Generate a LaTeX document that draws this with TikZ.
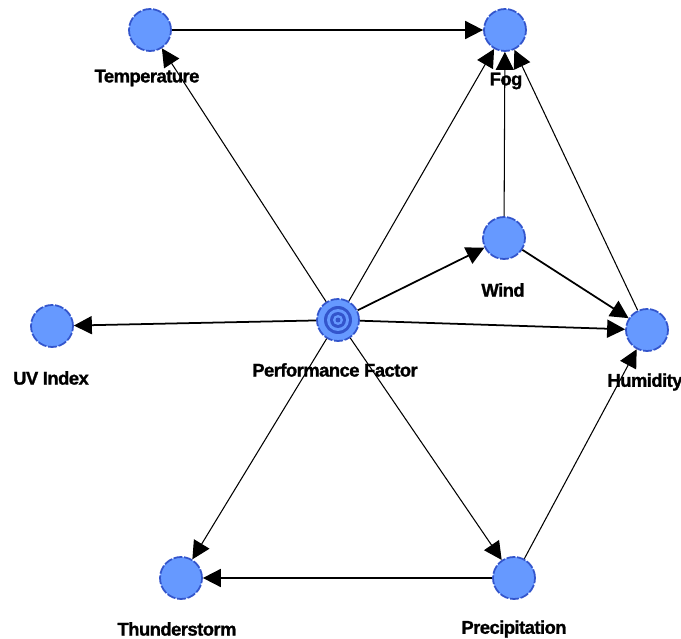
\documentclass[tikz,border=0pt]{standalone}
\usepackage{fontspec}
\setmainfont{Liberation Sans}
\newfontfamily\tagfont{Liberation Sans Bold}[FakeBold=1.2,LetterSpace=-3]
\usetikzlibrary{arrows.meta}
\definecolor{NodeClr}{RGB}{102,153,255}
\definecolor{RimClr}{RGB}{51,85,204}

\begin{document}
\begin{tikzpicture}[x=0.02cm,y=-0.02cm,
  ball/.style={circle,minimum size=0.84cm,inner sep=0pt,fill=NodeClr,
    draw=RimClr,line width=1pt,dash pattern=on 5pt off 1pt},
  tag/.style={font=\tagfont\fontsize{10.5}{12}\selectfont,inner sep=0pt},
  link/.style={-{Triangle[length=0.36cm,width=0.36cm]},line width=0.6pt},
  heavy/.style={link,line width=1pt}]
\useasboundingbox (0,0) rectangle (681,639);

% nodes
\node[ball] (temp)   at (150,30)  {};
\node[ball] (fog)    at (505,30)  {};
\node[ball] (wind)   at (504,238) {};
\node[ball] (uv)     at (52,326)  {};
\node[ball] (pf)     at (338,320) {};
\node[ball] (hum)    at (647,330) {};
\node[ball] (thund)  at (181,578) {};
\node[ball] (precip) at (514,578) {};

% rings of the core node
\foreach \r/\c in {0.28/RimClr,0.22/NodeClr,0.16/RimClr,0.10/NodeClr,0.05/RimClr}
  \fill[\c] (pf) circle[radius=\r cm];

% labels
\node[tag] (tempL)   at (147,78)  {Temperature};
\node[tag] (fogL)    at (506,81)  {Fog};
\node[tag] (windL)   at (503,290) {Wind};
\node[tag] (uvL)     at (51,378)  {UV Index};
\node[tag] (pfL)     at (335,370) {Performance Factor};
\node[tag] (humL)    at (645,382) {Humidity};
\node[tag] (thundL)  at (177,629) {Thunderstorm};
\node[tag] (precipL) at (514,629) {Precipitation};

% edges
\draw[heavy] (temp) -- (fog);
\draw[link]  (pf) -- (temp);
\draw[link]  (pf) -- (fog);
\draw[heavy] (pf) -- (wind);
\draw[heavy] (pf) -- (uv);
\draw[heavy] (pf) -- (hum);
\draw[link]  (pf) -- (thund);
\draw[link]  (pf) -- (precip);
\draw[link]  (wind) -- (fog);
\draw[heavy] (wind) -- (hum);
\draw[link]  (hum) -- (fog);
\draw[link]  (precip) -- (hum);
\draw[heavy] (precip) -- (thund);

\end{tikzpicture}
\end{document}
